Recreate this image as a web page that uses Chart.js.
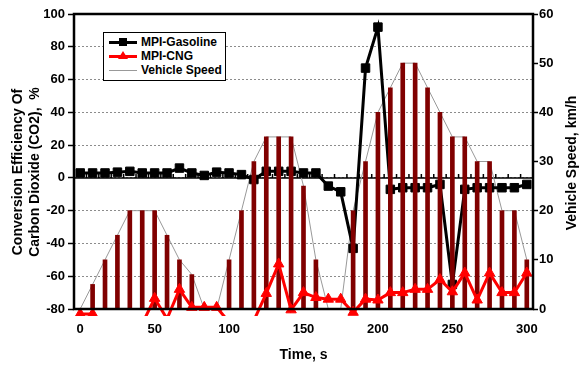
<!DOCTYPE html>
<html>
<head>
<meta charset="utf-8">
<script src="https://cdn.jsdelivr.net/npm/chart.js@4.4.1/dist/chart.umd.min.js"></script>
<style>
  html,body{margin:0;padding:0;background:#fff;}
  #wrap{position:relative;width:580px;height:367px;}
  #legend{position:absolute;left:103px;top:32px;width:121px;height:47px;border:1px solid #000;background:#fff;
    font:bold 12px "Liberation Sans",Arial,sans-serif;color:#000;}
  .row{position:absolute;left:0;width:121px;height:14px;line-height:14px;}
  .row span.t{position:absolute;left:37px;top:0;white-space:nowrap;}
  .ln{position:absolute;left:5px;width:28px;}
  .mk{position:absolute;}
</style>
</head>
<body>
<div id="wrap">
  <canvas id="chart" width="580" height="367"></canvas>
  <div id="legend">
    <div class="row" style="top:2px">
      <div class="ln" style="top:6px;height:3px;background:#000"></div>
      <div class="mk" style="left:15px;top:3px;width:8px;height:8px;background:#000"></div>
      <span class="t">MPI-Gasoline</span>
    </div>
    <div class="row" style="top:16px">
      <div class="ln" style="top:6px;height:3px;background:#f00"></div>
      <div class="mk" style="left:14px;top:2px;width:0;height:0;border-left:5px solid transparent;border-right:5px solid transparent;border-bottom:8px solid #f00"></div>
      <span class="t">MPI-CNG</span>
    </div>
    <div class="row" style="top:30px">
      <div class="ln" style="top:7px;height:1px;background:#999"></div>
      <span class="t">Vehicle Speed</span>
    </div>
  </div>
</div>
<script>
// time samples (s), one every 8.33 s
const times = [0, 8.33, 16.67, 25, 33.33, 41.67, 50, 58.33, 66.67, 75, 83.33, 91.67,
  100, 108.33, 116.67, 125, 133.33, 141.67, 150, 158.33, 166.67, 175, 183.33, 191.67,
  200, 208.33, 216.67, 225, 233.33, 241.67, 250, 258.33, 266.67, 275, 283.33, 291.67, 300];

// CO2 conversion efficiency, %
const gasoline = [3, 3, 3, 3.5, 4, 3, 3, 3, 6, 3, 1.5, 3.5,
  3, 2, -1, 4, 4, 4, 3, 3, -5, -8.5, -43, 67,
  92, -7, -6, -6, -6, -4, -65, -7, -6, -6, -6, -6, -4];
const cng = [-83, -83, -100, -100, -100, -89, -73.5, -86, -68, -79, -79, -79,
  -88, -100, -87, -70.5, -52.5, -80.5, -70, -73, -74, -74, -82, -74,
  -74.5, -70, -70, -68, -68, -62, -69.5, -58, -74.5, -58, -70, -70, -58];

// vehicle speed, km/h
const speed = [0, 5, 10, 15, 20, 20, 20, 15, 10, 7, 0, 0,
  10, 20, 30, 35, 35, 35, 25, 10, 0, 0, 20, 30,
  40, 45, 50, 50, 45, 40, 35, 35, 30, 30, 20, 20, 10];

const leftTicks = {min: -80, max: 100, step: 20};
const rightTicks = {min: 0, max: 60, step: 10};
const leftTitle = ['Conversion Efficiency Of', 'Carbon Dioxide (CO2),  %'];
const rightTitle = 'Vehicle Speed, km/h';

const FONT = '"Liberation Sans", Arial, sans-serif';
Chart.defaults.font.family = FONT;
Chart.defaults.font.weight = 'bold';
Chart.defaults.font.size = 13;
Chart.defaults.color = '#000';

// x axis crossing at 0 with category tick marks, black plot frame, y titles (both read bottom-up)
const axisDeco = {
  id: 'axisDeco',
  beforeDatasetsDraw(c){
    const {ctx, chartArea: a, scales: {x, y}} = c;
    const y0 = y.getPixelForValue(0);
    const w = x.getPixelForValue(1) - x.getPixelForValue(0);
    ctx.save();
    ctx.strokeStyle = '#000'; ctx.lineWidth = 1.5;
    ctx.beginPath();
    ctx.moveTo(a.left, y0); ctx.lineTo(a.right, y0);
    for(let i = 0; i <= times.length; i++){
      const px = x.getPixelForValue(i) - w/2;
      ctx.moveTo(px, y0); ctx.lineTo(px, y0 - 4);
    }
    ctx.stroke();
    ctx.restore();
  },
  afterDraw(c){
    const {ctx, chartArea: a} = c;
    ctx.save();
    ctx.strokeStyle = '#000'; ctx.lineWidth = 2.5;
    ctx.strokeRect(a.left, a.top, a.right - a.left, a.bottom - a.top);

    const vTitle = (lines, cx, cy) => {
      ctx.save();
      ctx.translate(cx, cy); ctx.rotate(-Math.PI/2);
      ctx.font = 'bold 14px ' + FONT; ctx.fillStyle = '#000';
      ctx.textAlign = 'center'; ctx.textBaseline = 'middle';
      lines.forEach((t, i) => ctx.fillText(t, 0, i * 17));
      ctx.restore();
    };
    vTitle(leftTitle, 18, 172);
    vTitle([rightTitle], 572, 163);
    ctx.restore();
  }
};

new Chart(document.getElementById('chart'), {
  type: 'line',
  data: {
    labels: times,
    datasets: [
      {label: 'MPI-CNG', data: cng, yAxisID: 'y', order: 0,
        borderColor: '#ff0000', backgroundColor: '#ff0000', borderWidth: 3,
        pointStyle: 'triangle', pointRadius: 6, pointBorderWidth: 1,
        clip: {left: 10, top: 10, right: 10, bottom: 7}},
      {type: 'bar', label: 'speed bars', data: speed, yAxisID: 'y2', order: 1,
        backgroundColor: '#800000', borderWidth: 0, barThickness: 4},
      {label: 'MPI-Gasoline', data: gasoline, yAxisID: 'y', order: 2,
        borderColor: '#000', backgroundColor: '#000', borderWidth: 3,
        pointStyle: 'rect', pointRadius: 6, pointBorderWidth: 1},
      {label: 'Vehicle Speed', data: speed, yAxisID: 'y2', order: 3,
        borderColor: '#999', borderWidth: 1, pointRadius: 0}
    ]
  },
  options: {
    responsive: false,
    animation: false,
    layout: {padding: {top: 14, left: 0, right: 0, bottom: 0}},
    plugins: {legend: {display: false}, tooltip: {enabled: false}},
    scales: {
      x: {
        type: 'category', offset: true,
        grid: {display: false, drawTicks: false},
        border: {display: false},
        ticks: {autoSkip: false, maxRotation: 0, padding: 13,
          callback: (v, i) => i % 6 === 0 ? String(times[i]) : ''},
        title: {display: true, text: 'Time, s', font: {size: 14, weight: 'bold'}, padding: {top: 0, bottom: 3.6}},
        afterFit: s => { s.height = 58; }
      },
      y: {
        position: 'left', min: leftTicks.min, max: leftTicks.max,
        ticks: {stepSize: leftTicks.step, padding: 3},
        grid: {color: '#8c8c8c', lineWidth: 1, tickColor: '#000', tickLength: 6, tickWidth: 1.5},
        border: {display: false, dash: [2, 2]},
        afterFit: s => { s.width = 74; }
      },
      y2: {
        position: 'right', min: rightTicks.min, max: rightTicks.max,
        ticks: {stepSize: rightTicks.step, padding: 1},
        grid: {drawOnChartArea: false, tickColor: '#000', tickLength: 5, tickWidth: 1.5},
        border: {display: false},
        afterFit: s => { s.width = 47; }
      }
    }
  },
  plugins: [axisDeco]
});
</script>
</body>
</html>
